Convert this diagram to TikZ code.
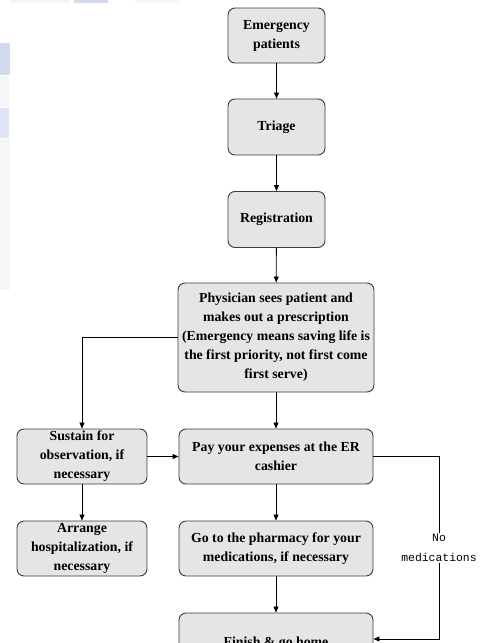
\documentclass[tikz,border=0pt]{standalone}
\usepackage{fontspec}
\setmainfont{Liberation Serif}
\setmonofont{Liberation Mono}
\usetikzlibrary{arrows.meta}
\definecolor{boxfill}{RGB}{229,229,229}
\definecolor{boxline}{RGB}{60,60,60}
\definecolor{markblue}{RGB}{210,218,240}
\definecolor{markgray}{RGB}{245,246,248}
\begin{document}
\begin{tikzpicture}[x=1pt,y=-1pt,
  stepbox/.style={draw=boxline, fill=boxfill, rounded corners=7pt, line width=0.9pt,
    align=center, inner sep=0pt,
    font=\fontsize{13.8}{19}\selectfont\bfseries},
  arr/.style={draw=black, line width=0.8pt, -{Triangle[length=6pt,width=5pt]}},
  note/.style={fill=white, inner sep=1pt, align=center,
    font=\fontsize{11.4}{20}\selectfont\ttfamily}]
\useasboundingbox (0,0) rectangle (487,643);
\clip (0,0) rectangle (487,643);
\fill[white] (0,0) rectangle (487,643);
% faint background mark in the upper left corner
\fill[markgray] (10,0) rectangle (70,3);
\fill[markblue] (74,0) rectangle (108,3);
\fill[markgray] (135,0) rectangle (180,3);
\fill[markblue] (0,43) rectangle (10,75);
\fill[markgray] (0,76) rectangle (9,107);
\fill[markblue!70] (0,108) rectangle (9,138);
\fill[markgray] (0,139) rectangle (10,290);

% main column
\node[stepbox, minimum width=97, minimum height=55] (em) at (276.5,35.5) {Emergency\\patients};
\node[stepbox, minimum width=97, minimum height=56] (tr) at (276.5,127) {Triage};
\node[stepbox, minimum width=97, minimum height=56] (rg) at (276.5,219.5) {Registration};
\node[stepbox, minimum width=196, minimum height=109] (ph) at (276,337.5)
  {Physician sees patient and\\makes out a prescription\\(Emergency means saving life is\\the first priority, not first come\\first serve)};
\node[stepbox, minimum width=194, minimum height=55] (pay) at (276,456.5) {Pay your expenses at the ER\\cashier};
\node[stepbox, minimum width=194, minimum height=55] (phm) at (276,548.5) {Go to the pharmacy for your\\medications, if necessary};
\node[stepbox, minimum width=194, minimum height=60] (fin) at (276,643) {Finish \& go home};

% side column
\node[stepbox, minimum width=130, minimum height=55] (sus) at (82,456.5) {Sustain for\\observation, if\\necessary};
\node[stepbox, minimum width=130, minimum height=55] (hos) at (82,548.5) {Arrange\\hospitalization, if\\necessary};

% connectors
\draw[arr] (em) -- (tr);
\draw[arr] (tr) -- (rg);
\draw[arr] (rg) -- (ph);
\draw[arr] (ph) -- (pay);
\draw[arr] (pay) -- (phm);
\draw[arr] (phm) -- (fin);
\draw[arr] (ph.west) -| (sus.north);
\draw[arr] (sus) -- (pay);
\draw[arr] (sus) -- (hos);

% bypass when no medication is needed
\coordinate (nmc) at (439,639);
\draw[arr] (pay.east) -| (nmc) -- (fin.east |- nmc);
\node[note] (nm) at (439,548) {No\\medications};
\end{tikzpicture}
\end{document}
